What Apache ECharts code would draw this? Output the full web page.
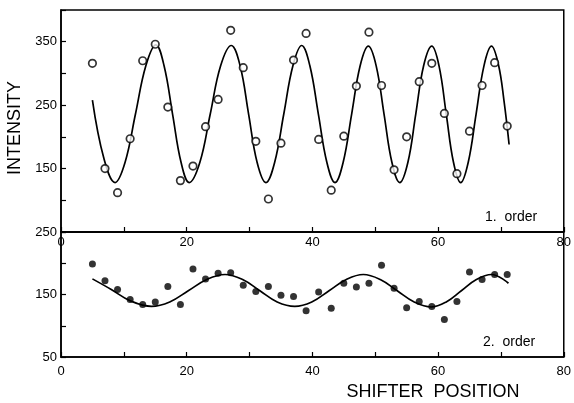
<!DOCTYPE html>
<html>
<head>
<meta charset="utf-8">
<script src="https://cdn.jsdelivr.net/npm/echarts@6/dist/echarts.min.js"></script>
<style>
html,body{margin:0;padding:0;background:#fff;}
#c{width:574px;height:403px;}
</style>
</head>
<body>
<div id="c"></div>
<script>
// Shifter positions (shared by both orders)
const shifterPos = [5,7,9,11,13,15,17,19,21,23,25,27,29,31,33,35,37,39,41,43,45,47,49,51,53,55,57,59,61,63,65,67,69,71];
// 1. order measured intensities (open circles)
const order1 = [316,150,112,197,320,346,247,131,154,216,259,368,309,193,102,190,321,363,196,116,201,280,365,281,148,200,287,316,237,142,209,281,317,217];
// 2. order measured intensities (filled dots)
const order2 = [199,172,158,142,134,138,163,134,191,175,184,185,165,155,163,149,147,124,154,128,168,162,168,197,160,129,139,131,110,139,186,174,182,182];
// fitted curve of 1. order
const fit1X = [5,6.8,8.6,10.2,11.85,13.5,15.1,16.4,17.75,19.1,20.4,22.1,23.75,25.4,27.1,28.5,29.85,31.2,32.6,34.0,35.45,36.9,38.3,39.6,40.95,42.3,43.6,44.9,46.25,47.6,48.9,50.15,51.4,52.65,53.9,55.2,56.45,57.7,59.0,60.15,61.3,62.45,63.6,64.8,66.05,67.3,68.5,69.6,70.5,71.3];
const fit1Y = [258,167,128,160,236,312,345,312,236,160,128,160,236,312,344,312,236,160,128,160,236,312,344,312,236,160,128,160,236,312,343,312,236,160,128,160,236,312,343,312,236,160,128,160,236,312,343,314,256,188];
// fitted curve of 2. order
const fit2X = [5,8,11,14.4,17.3,20.25,23.2,26.1,28.9,31.65,34.4,37.2,39.9,42.65,45.4,48.1,50.8,53.5,56.2,58.9,61.3,63.7,66.1,68.5,71.2];
const fit2Y = [175,158,140,131,138,156,174,182,174,156,138,131,138,156,174,182,174,156,138,130,138,156,174,182,168];
// tick labels
const xTickLabels = [0,20,40,60,80];
const y1TickLabels = [150,250,350];
const y2TickLabels = [50,150,250];

const FONT = '"Liberation Sans", Arial, sans-serif';
const INK = '#000';

const zip = (a, b) => a.map((v, i) => [v, b[i]]);

function xAxisCfg(gridIndex, margin) {
  return {
    type: 'value', gridIndex, min: 0, max: 80, interval: 10,
    axisLine: { show: true, lineStyle: { color: INK, width: 1.5 } },
    axisTick: { show: true, inside: true, length: 5, lineStyle: { color: INK, width: 1.2 } },
    axisLabel: {
      show: true, margin, color: INK, fontFamily: FONT, fontSize: 13,
      formatter: v => xTickLabels.includes(v) ? String(v) : ''
    },
    splitLine: { show: false }
  };
}
function yAxisCfg(gridIndex, min, max, labels) {
  return {
    type: 'value', gridIndex, min, max, interval: 50,
    axisLine: { show: true, lineStyle: { color: INK, width: 1.5 } },
    axisTick: { show: true, inside: true, length: 5, lineStyle: { color: INK, width: 1.2 } },
    axisLabel: {
      show: true, margin: 4, color: INK, fontFamily: FONT, fontSize: 13,
      formatter: v => labels.includes(v) ? String(v) : ''
    },
    splitLine: { show: false }
  };
}

const chart = echarts.init(document.getElementById('c'), null, { renderer: 'canvas' });
chart.setOption({
  animation: false,
  backgroundColor: '#fff',
  grid: [
    { left: 61, top: 10, width: 505, height: 222, show: true, borderColor: INK, borderWidth: 1.5, backgroundColor: 'transparent' },
    { left: 61, top: 232, width: 505, height: 125, show: true, borderColor: INK, borderWidth: 1.5, backgroundColor: 'transparent' }
  ],
  xAxis: [xAxisCfg(0, 4), xAxisCfg(1, 8)],
  yAxis: [yAxisCfg(0, 50, 400, y1TickLabels), yAxisCfg(1, 50, 250, y2TickLabels)],
  series: [
    {
      type: 'line', xAxisIndex: 0, yAxisIndex: 0, data: zip(fit1X, fit1Y),
      smooth: 0.4, showSymbol: false, lineStyle: { color: INK, width: 1.7 }, z: 2
    },
    {
      type: 'scatter', xAxisIndex: 0, yAxisIndex: 0, data: zip(shifterPos, order1),
      symbol: 'circle', symbolSize: 7.5,
      itemStyle: { color: '#fff', borderColor: INK, borderWidth: 1.7 }, z: 3
    },
    {
      type: 'line', xAxisIndex: 1, yAxisIndex: 1, data: zip(fit2X, fit2Y),
      smooth: 0.4, showSymbol: false, lineStyle: { color: INK, width: 1.7 }, z: 2
    },
    {
      type: 'scatter', xAxisIndex: 1, yAxisIndex: 1, data: zip(shifterPos, order2),
      symbol: 'circle', symbolSize: 7,
      itemStyle: { color: INK }, z: 3
    }
  ],
  graphic: [
    {
      type: 'text', x: 15, y: 128, rotation: Math.PI / 2,
      style: { text: 'INTENSITY', fill: INK, font: '18px ' + FONT, textAlign: 'center', textVerticalAlign: 'middle' }
    },
    {
      type: 'text', x: 433, y: 392,
      style: { text: 'SHIFTER  POSITION', fill: INK, font: '18px ' + FONT, textAlign: 'center', textVerticalAlign: 'middle' }
    },
    {
      type: 'text', x: 485, y: 217,
      style: { text: '1.  order', fill: INK, font: '14px ' + FONT, textAlign: 'left', textVerticalAlign: 'middle' }
    },
    {
      type: 'text', x: 483, y: 342,
      style: { text: '2.  order', fill: INK, font: '14px ' + FONT, textAlign: 'left', textVerticalAlign: 'middle' }
    }
  ]
});
</script>
</body>
</html>
